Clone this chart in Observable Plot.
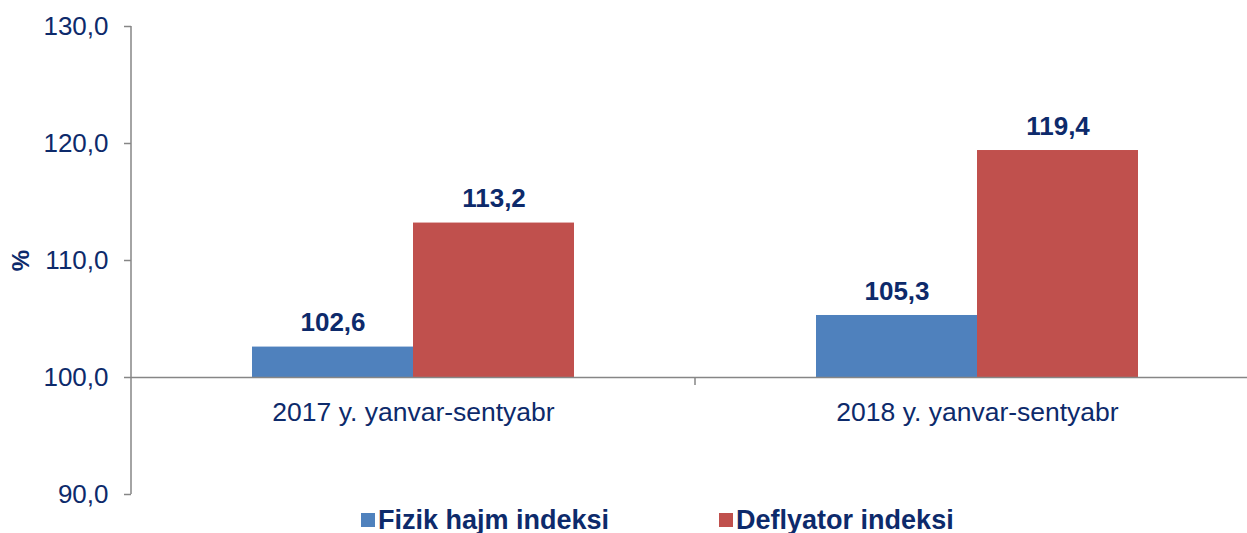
<!DOCTYPE html>
<html>
<head>
<meta charset="utf-8">
<script src="https://cdn.jsdelivr.net/npm/d3@7"></script>
<script src="https://cdn.jsdelivr.net/npm/@observablehq/plot@0.6"></script>
<style>
  html, body { margin: 0; padding: 0; background: #fff; overflow: hidden; }
  #chart svg { display: block; }
  .legend { position: relative; display: flex; align-items: center; height: 26px; line-height: 26px;
    margin-top: -13px; padding-left: 361px;
    font-family: "Liberation Sans", Arial, sans-serif; font-weight: bold; font-size: 27px; color: #0d2a6b; }
  .legend .item { display: flex; align-items: center; }
  .legend .sw { width: 14px; height: 14px; margin-right: 3px; }
  .legend .item + .item { margin-left: 110px; }
</style>
</head>
<body>
<div id="chart"></div>
<div class="legend" id="legend"></div>
<script>
const categories = ["2017 y. yanvar-sentyabr", "2018 y. yanvar-sentyabr"];
const series = ["Fizik hajm indeksi", "Deflyator indeksi"];
const fizikHajm = [102.6, 105.3];
const deflyator = [113.2, 119.4];
const yTicks = [90, 100, 110, 120, 130];
const baseline = 100;
const colors = ["#4F81BD", "#C0504D"];

const navy = "#0d2a6b";
const gray = "#868686";
const fmt = v => d3.format(".1f")(v).replace(".", ",");

const data = categories.flatMap((c, i) => [
  {cat: c, series: series[0], value: fizikHajm[i]},
  {cat: c, series: series[1], value: deflyator[i]}
]);

const chart = Plot.plot({
  width: 1247,
  height: 520,
  marginLeft: 131,
  marginRight: -12,
  marginTop: 26,
  marginBottom: 26,
  style: {fontFamily: "Liberation Sans, Arial, sans-serif", background: "white", color: navy},
  fx: {domain: categories, padding: 0, axis: null},
  x: {domain: series, paddingInner: 0, paddingOuter: 0.75, axis: null},
  y: {domain: [90, 130], axis: null},
  color: {domain: series, range: colors},
  marks: [
    Plot.barY(data, {fx: "cat", x: "series", y1: baseline, y2: "value", fill: "series"}),
    Plot.ruleY([baseline], {stroke: gray, strokeWidth: 1.5}),
    Plot.text(data, {fx: "cat", x: "series", y: "value", text: d => fmt(d.value),
      dy: -24, lineAnchor: "middle", fontWeight: "bold", fontSize: 26, fill: navy}),
    Plot.text(categories, {fx: d => d, y: () => baseline, text: d => d,
      dy: 35, lineAnchor: "middle", fontSize: 26.5, fill: navy}),
    Plot.axisY(yTicks, {tickSize: 7, tickPadding: 16, tickFormat: fmt, fontSize: 26,
      stroke: gray, strokeWidth: 1.5, fill: navy, label: null}),
    Plot.axisY({ticks: [], label: "%", labelAnchor: "center", labelOffset: 120, labelArrow: "none",
      fontSize: 24, fontWeight: "bold", fill: navy})
  ]
});

document.getElementById("chart").appendChild(chart);

// axis line and category boundary tick, positioned through Plot's own scales
const fxs = chart.scale("fx");
const ys = chart.scale("y");
const svg = d3.select(chart);
const left = fxs.apply(categories[0]);
svg.append("line")
  .attr("x1", left).attr("x2", left)
  .attr("y1", ys.apply(yTicks[yTicks.length - 1])).attr("y2", ys.apply(yTicks[0]))
  .attr("stroke", gray).attr("stroke-width", 1.5);
const boundary = fxs.apply(categories[1]);
svg.append("line")
  .attr("x1", boundary).attr("x2", boundary)
  .attr("y1", ys.apply(baseline)).attr("y2", ys.apply(baseline) + 8)
  .attr("stroke", gray).attr("stroke-width", 1.5);

const legend = d3.select("#legend");
series.forEach((s, i) => {
  const item = legend.append("div").attr("class", "item");
  item.append("div").attr("class", "sw").style("background", colors[i]);
  item.append("span").text(s);
});
</script>
</body>
</html>
